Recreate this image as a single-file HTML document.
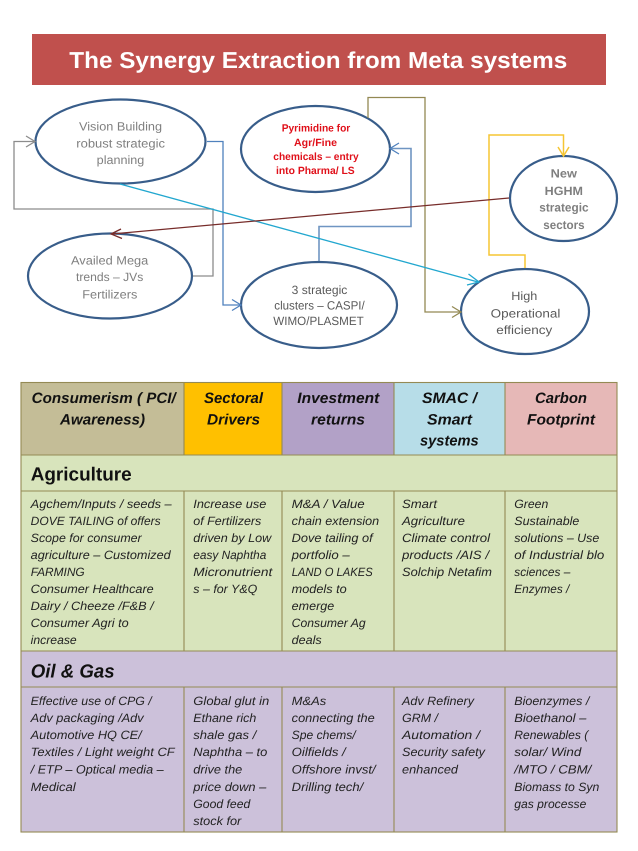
<!DOCTYPE html>
<html><head><meta charset="utf-8">
<style>
html,body{margin:0;padding:0;background:#fff;width:638px;height:851px;overflow:hidden}
svg{display:block}
text{font-family:"Liberation Sans",sans-serif;white-space:pre;text-rendering:geometricPrecision}
.e{fill:#fff;stroke:#385d8a;stroke-width:2.2}
.c{fill:none;stroke-width:1.3}
.g text{font-size:12px;fill:#7f7f7f}
.d text{font-size:12px;fill:#595959}
.r text{font-size:10.5px;font-weight:bold;fill:#e0101a}
.b text{font-size:12px;font-style:italic;fill:#222}
.h text{font-size:15px;font-weight:bold;font-style:italic;fill:#111}
</style></head><body>
<svg width="638" height="851" viewBox="0 0 638 851" xmlns="http://www.w3.org/2000/svg">
<rect width="638" height="851" fill="#fff"/>
<rect x="32" y="34" width="574" height="51" fill="#c0504d"/>
<text x="69.3" y="68" font-size="23" font-weight="bold" fill="#fff" textLength="498" lengthAdjust="spacingAndGlyphs">The Synergy Extraction from Meta systems</text>

<ellipse class="e" cx="120.5" cy="141.5" rx="85" ry="42"/>
<ellipse class="e" cx="315.5" cy="149" rx="74.5" ry="43"/>
<ellipse class="e" cx="110" cy="276" rx="82" ry="42.5"/>
<ellipse class="e" cx="319" cy="305" rx="78" ry="43"/>
<ellipse class="e" cx="563.5" cy="198.5" rx="53.5" ry="42.5"/>
<ellipse class="e" cx="525" cy="311.5" rx="64" ry="42.5"/>

<!-- connectors -->
<g class="c">
<polyline stroke="#8c8c8c" points="193,276 213,276 213,209 14,209 14,141.5 34,141.5"/>
<polyline stroke="#8c8c8c" points="26,136 35,141.5 26,147"/>
<polyline stroke="#4f81bd" points="207,141.5 223,141.5 223,305 240,305"/>
<polyline stroke="#4f81bd" points="232,299.5 241,305 232,310.5"/>
<polyline stroke="#6f95c2" stroke-width="1.6" points="319,261 319,226.5 411,226.5 411,148.5 391,148.5"/>
<polyline stroke="#4f81bd" points="399,143 390,148.5 399,154"/>
<polyline stroke="#938953" points="368,118 368,97.5 425,97.5 425,312 460,312"/>
<polyline stroke="#938953" points="452,306.5 461,312 452,317.5"/>
<polyline stroke="#f5c533" stroke-width="1.5" points="525,268 525,255 489,255 489,135 563.5,135 563.5,155"/>
<polyline stroke="#f5c533" stroke-width="1.5" points="558,147 563.5,156 569,147"/>
<line stroke="#22a7cf" x1="120" y1="184" x2="478" y2="282"/>
<polyline stroke="#22a7cf" points="468.5,274 479,282 467,285"/>
<line stroke="#772c2a" x1="509" y1="198" x2="112" y2="234"/>
<polyline stroke="#772c2a" points="121,229 111,234 122,238.5"/>
</g>

<g class="g">
<text x="79" y="130.7" textLength="83" lengthAdjust="spacingAndGlyphs">Vision Building</text>
<text x="76.3" y="147.3" textLength="88.7" lengthAdjust="spacingAndGlyphs">robust strategic</text>
<text x="96.7" y="164" textLength="47.6" lengthAdjust="spacingAndGlyphs">planning</text>
<text x="71" y="264.3" textLength="77.3" lengthAdjust="spacingAndGlyphs">Availed Mega</text>
<text x="76" y="281" textLength="67.3" lengthAdjust="spacingAndGlyphs">trends – JVs</text>
<text x="82.3" y="298.3" textLength="55" lengthAdjust="spacingAndGlyphs">Fertilizers</text>
<text x="550.7" y="177.7" textLength="26.3" lengthAdjust="spacingAndGlyphs" font-weight="bold">New</text>
<text x="544.7" y="195" textLength="38.3" lengthAdjust="spacingAndGlyphs" font-weight="bold">HGHM</text>
<text x="539.3" y="211.7" textLength="49.3" lengthAdjust="spacingAndGlyphs" font-weight="bold">strategic</text>
<text x="543.3" y="229" textLength="41.3" lengthAdjust="spacingAndGlyphs" font-weight="bold">sectors</text>
</g>
<g class="d">
<text x="291.7" y="294" textLength="55.6" lengthAdjust="spacingAndGlyphs">3 strategic</text>
<text x="274.3" y="309.3" textLength="90.4" lengthAdjust="spacingAndGlyphs">clusters – CASPI/</text>
<text x="273.3" y="325" textLength="90.4" lengthAdjust="spacingAndGlyphs">WIMO/PLASMET</text>
<text x="511.3" y="300" textLength="26" lengthAdjust="spacingAndGlyphs">High</text>
<text x="490.7" y="317.3" textLength="69.7" lengthAdjust="spacingAndGlyphs">Operational</text>
<text x="496.3" y="334" textLength="56" lengthAdjust="spacingAndGlyphs">efficiency</text>
</g>
<g class="r">
<text x="281.7" y="131.7" textLength="68.6" lengthAdjust="spacingAndGlyphs">Pyrimidine for</text>
<text x="294" y="146" textLength="43" lengthAdjust="spacingAndGlyphs">Agr/Fine</text>
<text x="273.3" y="160" textLength="85.4" lengthAdjust="spacingAndGlyphs">chemicals – entry</text>
<text x="276" y="174" textLength="78.7" lengthAdjust="spacingAndGlyphs">into Pharma/ LS</text>
</g>

<!-- table fills -->
<rect x="21" y="382.5" width="163" height="72.5" fill="#c4bd97"/>
<rect x="184" y="382.5" width="98" height="72.5" fill="#ffc000"/>
<rect x="282" y="382.5" width="112" height="72.5" fill="#b2a1c7"/>
<rect x="394" y="382.5" width="111" height="72.5" fill="#b7dde8"/>
<rect x="505" y="382.5" width="112" height="72.5" fill="#e6b8b7"/>
<rect x="21" y="455" width="596" height="196" fill="#d8e4bc"/>
<rect x="21" y="651" width="596" height="181" fill="#ccc1da"/>
<!-- table grid -->
<g stroke="#948a54" stroke-width="1.1" fill="none">
<rect x="21" y="382.5" width="596" height="449.5"/>
<line x1="21" y1="455" x2="617" y2="455"/>
<line x1="21" y1="491" x2="617" y2="491"/>
<line x1="21" y1="651" x2="617" y2="651"/>
<line x1="21" y1="687" x2="617" y2="687"/>
<path d="M184 382.5V455M282 382.5V455M394 382.5V455M505 382.5V455"/>
<path d="M184 491V651M282 491V651M394 491V651M505 491V651"/>
<path d="M184 687V832M282 687V832M394 687V832M505 687V832"/>
</g>

<g class="h">
<text x="31.7" y="403" textLength="144" lengthAdjust="spacingAndGlyphs">Consumerism ( PCI/</text>
<text x="60" y="424.5" textLength="85" lengthAdjust="spacingAndGlyphs">Awareness)</text>
<text x="204" y="403" textLength="59" lengthAdjust="spacingAndGlyphs">Sectoral</text>
<text x="207" y="424.5" textLength="53" lengthAdjust="spacingAndGlyphs">Drivers</text>
<text x="297.3" y="403" textLength="82" lengthAdjust="spacingAndGlyphs">Investment</text>
<text x="311" y="424.5" textLength="54" lengthAdjust="spacingAndGlyphs">returns</text>
<text x="422" y="403" textLength="55" lengthAdjust="spacingAndGlyphs">SMAC /</text>
<text x="427" y="424.5" textLength="45" lengthAdjust="spacingAndGlyphs">Smart</text>
<text x="420" y="445.5" textLength="58.7" lengthAdjust="spacingAndGlyphs">systems</text>
<text x="535" y="403" textLength="52" lengthAdjust="spacingAndGlyphs">Carbon</text>
<text x="527" y="424.5" textLength="68" lengthAdjust="spacingAndGlyphs">Footprint</text>
</g>
<text x="30.7" y="480.3" font-size="19" font-weight="bold" fill="#111" textLength="101" lengthAdjust="spacingAndGlyphs">Agriculture</text>
<text x="30.7" y="677.7" font-size="19" font-weight="bold" font-style="italic" fill="#111" textLength="84" lengthAdjust="spacingAndGlyphs">Oil &amp; Gas</text>

<g class="b">
<text x="30.7" y="508" textLength="141" lengthAdjust="spacingAndGlyphs">Agchem/Inputs / seeds –</text>
<text x="30.7" y="525" textLength="130" lengthAdjust="spacingAndGlyphs">DOVE TAILING of offers</text>
<text x="30.7" y="542" textLength="111" lengthAdjust="spacingAndGlyphs">Scope for consumer</text>
<text x="30.7" y="559" textLength="140" lengthAdjust="spacingAndGlyphs">agriculture – Customized</text>
<text x="30.7" y="576" textLength="54" lengthAdjust="spacingAndGlyphs">FARMING</text>
<text x="30.7" y="593" textLength="123" lengthAdjust="spacingAndGlyphs">Consumer Healthcare</text>
<text x="30.7" y="610" textLength="123" lengthAdjust="spacingAndGlyphs">Dairy / Cheeze /F&amp;B /</text>
<text x="30.7" y="627" textLength="98" lengthAdjust="spacingAndGlyphs">Consumer Agri to</text>
<text x="30.7" y="644" textLength="46" lengthAdjust="spacingAndGlyphs">increase</text>

<text x="193.3" y="508" textLength="73" lengthAdjust="spacingAndGlyphs">Increase use</text>
<text x="193.3" y="525" textLength="68" lengthAdjust="spacingAndGlyphs">of Fertilizers</text>
<text x="193.3" y="542" textLength="78" lengthAdjust="spacingAndGlyphs">driven by Low</text>
<text x="193.3" y="559" textLength="73" lengthAdjust="spacingAndGlyphs">easy Naphtha</text>
<text x="193.3" y="576" textLength="79" lengthAdjust="spacingAndGlyphs">Micronutrient</text>
<text x="193.3" y="593" textLength="64" lengthAdjust="spacingAndGlyphs">s – for Y&amp;Q</text>

<text x="291.7" y="508" textLength="73" lengthAdjust="spacingAndGlyphs">M&amp;A / Value</text>
<text x="291.7" y="525" textLength="87.5" lengthAdjust="spacingAndGlyphs">chain extension</text>
<text x="291.7" y="542" textLength="81" lengthAdjust="spacingAndGlyphs">Dove tailing of</text>
<text x="291.7" y="559" textLength="58" lengthAdjust="spacingAndGlyphs">portfolio –</text>
<text x="291.7" y="576" textLength="81" lengthAdjust="spacingAndGlyphs">LAND O LAKES</text>
<text x="291.7" y="593" textLength="55" lengthAdjust="spacingAndGlyphs">models to</text>
<text x="291.7" y="610" textLength="42.5" lengthAdjust="spacingAndGlyphs">emerge</text>
<text x="291.7" y="627" textLength="74" lengthAdjust="spacingAndGlyphs">Consumer Ag</text>
<text x="291.7" y="644" textLength="30" lengthAdjust="spacingAndGlyphs">deals</text>

<text x="402" y="508" textLength="35" lengthAdjust="spacingAndGlyphs">Smart</text>
<text x="402" y="525" textLength="63" lengthAdjust="spacingAndGlyphs">Agriculture</text>
<text x="402" y="542" textLength="88" lengthAdjust="spacingAndGlyphs">Climate control</text>
<text x="402" y="559" textLength="87" lengthAdjust="spacingAndGlyphs">products /AIS /</text>
<text x="402" y="576" textLength="90" lengthAdjust="spacingAndGlyphs">Solchip Netafim</text>

<text x="514.3" y="508" textLength="34" lengthAdjust="spacingAndGlyphs">Green</text>
<text x="514.3" y="525" textLength="65" lengthAdjust="spacingAndGlyphs">Sustainable</text>
<text x="514.3" y="542" textLength="85" lengthAdjust="spacingAndGlyphs">solutions – Use</text>
<text x="514.3" y="559" textLength="90" lengthAdjust="spacingAndGlyphs">of Industrial blo</text>
<text x="514.3" y="576" textLength="56" lengthAdjust="spacingAndGlyphs">sciences –</text>
<text x="514.3" y="593" textLength="55" lengthAdjust="spacingAndGlyphs">Enzymes /</text>

<text x="30.7" y="705" textLength="121" lengthAdjust="spacingAndGlyphs">Effective use of CPG /</text>
<text x="30.7" y="722" textLength="113" lengthAdjust="spacingAndGlyphs">Adv packaging /Adv</text>
<text x="30.7" y="739" textLength="111" lengthAdjust="spacingAndGlyphs">Automotive HQ CE/</text>
<text x="30.7" y="756" textLength="144" lengthAdjust="spacingAndGlyphs">Textiles / Light weight CF</text>
<text x="30.7" y="773.5" textLength="133" lengthAdjust="spacingAndGlyphs">/ ETP – Optical media –</text>
<text x="30.7" y="791" textLength="45" lengthAdjust="spacingAndGlyphs">Medical</text>

<text x="193.3" y="705" textLength="76" lengthAdjust="spacingAndGlyphs">Global glut in</text>
<text x="193.3" y="722" textLength="63" lengthAdjust="spacingAndGlyphs">Ethane rich</text>
<text x="193.3" y="739" textLength="63" lengthAdjust="spacingAndGlyphs">shale gas /</text>
<text x="193.3" y="756" textLength="74" lengthAdjust="spacingAndGlyphs">Naphtha – to</text>
<text x="193.3" y="773.5" textLength="49" lengthAdjust="spacingAndGlyphs">drive the</text>
<text x="193.3" y="791" textLength="73" lengthAdjust="spacingAndGlyphs">price down –</text>
<text x="193.3" y="808" textLength="57" lengthAdjust="spacingAndGlyphs">Good feed</text>
<text x="193.3" y="825" textLength="48" lengthAdjust="spacingAndGlyphs">stock for</text>

<text x="291.7" y="705" textLength="34.5" lengthAdjust="spacingAndGlyphs">M&amp;As</text>
<text x="291.7" y="722" textLength="83" lengthAdjust="spacingAndGlyphs">connecting the</text>
<text x="291.7" y="739" textLength="64" lengthAdjust="spacingAndGlyphs">Spe chems/</text>
<text x="291.7" y="756" textLength="54" lengthAdjust="spacingAndGlyphs">Oilfields /</text>
<text x="291.7" y="773.5" textLength="84" lengthAdjust="spacingAndGlyphs">Offshore invst/</text>
<text x="291.7" y="791" textLength="71.5" lengthAdjust="spacingAndGlyphs">Drilling tech/</text>

<text x="402" y="705" textLength="72" lengthAdjust="spacingAndGlyphs">Adv Refinery</text>
<text x="402" y="722" textLength="36" lengthAdjust="spacingAndGlyphs">GRM /</text>
<text x="402" y="739" textLength="78" lengthAdjust="spacingAndGlyphs">Automation /</text>
<text x="402" y="756" textLength="83" lengthAdjust="spacingAndGlyphs">Security safety</text>
<text x="402" y="773.5" textLength="56" lengthAdjust="spacingAndGlyphs">enhanced</text>

<text x="514.3" y="705" textLength="75" lengthAdjust="spacingAndGlyphs">Bioenzymes /</text>
<text x="514.3" y="722" textLength="72" lengthAdjust="spacingAndGlyphs">Bioethanol –</text>
<text x="514.3" y="739" textLength="74" lengthAdjust="spacingAndGlyphs">Renewables (</text>
<text x="514.3" y="756" textLength="67" lengthAdjust="spacingAndGlyphs">solar/ Wind</text>
<text x="514.3" y="773.5" textLength="77" lengthAdjust="spacingAndGlyphs">/MTO / CBM/</text>
<text x="514.3" y="791" textLength="85" lengthAdjust="spacingAndGlyphs">Biomass to Syn</text>
<text x="514.3" y="808" textLength="72" lengthAdjust="spacingAndGlyphs">gas processe</text>
</g>
</svg>
</body></html>
